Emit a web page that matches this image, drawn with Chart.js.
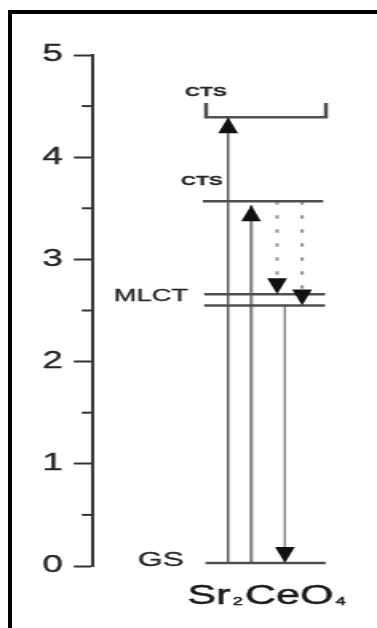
<!DOCTYPE html>
<html>
<head>
<meta charset="utf-8">
<style>
  html, body { margin: 0; padding: 0; background: #fff; }
  body { width: 377px; height: 628px; position: relative; overflow: hidden; }
  #wrap { position: absolute; left: 0; top: 0; width: 236px; height: 628px;
          transform: scaleX(1.5975); transform-origin: 0 0; }
  #frame { position: absolute; left: 8px; top: 10px; right: -10px; bottom: -10px;
           border-top: 4px solid #000; border-left: 4px solid #000; pointer-events: none; }
</style>
<script src="https://cdn.jsdelivr.net/npm/chart.js@4.4.1/dist/chart.umd.min.js"></script>
</head>
<body>
<div id="wrap"><canvas id="c"></canvas></div>
<div id="frame"></div>
<script>
// Energy axis (eV)
const yMin = 0;
const yMax = 5;
const yStep = 0.5;

// Discrete levels of Sr2CeO4
const levelNames  = ['GS', 'MLCT', 'MLCT', 'CTS'];
const levelEnergy = [0.03, 2.55, 2.66, 3.57];
const levelFrom   = [4.2, 4.15, 4.15, 4.1];
const levelTo     = [8.68, 8.66, 8.66, 8.59];

// Upper CTS band, shown as a bracket
const bandEnergy = 4.39;
const bandTop    = 4.53;
const bandFrom   = 4.22;
const bandTo     = 8.69;

// Transitions: horizontal slot, start energy, end energy
const transX    = [5.04, 5.9, 6.87, 7.8, 7.16];
const transFrom = [0.03, 0.03, 3.57, 3.57, 2.55];
const transTo   = [4.39, 3.53, 2.66, 2.55, 0.03];

// Level labels and their anchors
const labelText = ['CTS', 'CTS', 'MLCT', 'GS'];
const labelX    = [4.21, 4.06, 2.16, 2.53];
const labelY    = [4.63, 3.76, 2.64, 0.05];

// Compound name (text, is-subscript)
const compoundParts = [['Sr', false], ['2', true], ['CeO', false], ['4', true]];
const compoundX = 6.52;
const compoundY = -0.28;

// ---- styling ----
const FAMILY = '"Liberation Sans", Arial, Helvetica, sans-serif';
const levelColor = '#4f4f4f';
const transStyles = [
  { color: '#444', width: 1.3, dash: [] },
  { color: '#858585', width: 2.2, dash: [] },
  { color: '#9a9a9a', width: 2.2, dash: [3.5, 10.5] },
  { color: '#9a9a9a', width: 2.2, dash: [3.5, 10.5] },
  { color: '#858585', width: 1, dash: [] }
];
const labelFonts = {
  CTS:  'bold 13px ' + FAMILY,
  MLCT: '17px ' + FAMILY,
  GS:   '20px ' + FAMILY
};

const datasets = [];
levelEnergy.forEach((e, i) => {
  datasets.push({
    label: levelNames[i],
    data: [{ x: levelFrom[i], y: e }, { x: levelTo[i], y: e }],
    borderColor: levelColor, borderWidth: 2.5
  });
});
datasets.push({
  label: 'CTS band',
  data: [
    { x: bandFrom, y: bandTop }, { x: bandFrom, y: bandEnergy },
    { x: bandTo, y: bandEnergy }, { x: bandTo, y: bandTop }
  ],
  borderColor: levelColor, borderWidth: 2.5
});
transX.forEach((x, i) => {
  const s = transStyles[i];
  datasets.push({
    label: 'transition ' + (i + 1),
    data: [{ x: x, y: transFrom[i] }, { x: x, y: transTo[i] }],
    borderColor: s.color, borderWidth: s.width, borderDash: s.dash,
    borderCapStyle: 'butt', arrow: true
  });
});
datasets.forEach(d => { d.showLine = true; d.pointRadius = 0; d.fill = false; });

// Filled triangular heads at the end of each transition
const arrowHeads = {
  id: 'arrowHeads',
  afterDatasetsDraw(chart) {
    const ctx = chart.ctx;
    chart.data.datasets.forEach((ds, i) => {
      if (!ds.arrow) return;
      const pts = chart.getDatasetMeta(i).data;
      const a = pts[pts.length - 2], b = pts[pts.length - 1];
      const dir = b.y < a.y ? 1 : -1;
      ctx.save();
      ctx.fillStyle = '#111';
      ctx.beginPath();
      ctx.moveTo(b.x, b.y);
      ctx.lineTo(b.x - 6.2, b.y + dir * 16);
      ctx.lineTo(b.x + 6.2, b.y + dir * 16);
      ctx.closePath();
      ctx.fill();
      ctx.restore();
    });
  }
};

// Short minor ticks on the energy axis
const minorTicks = {
  id: 'minorTicks',
  afterDraw(chart) {
    const ctx = chart.ctx, ys = chart.scales.y, left = chart.chartArea.left;
    ctx.save();
    ctx.strokeStyle = '#333';
    ctx.lineWidth = 2;
    ys.ticks.forEach(t => {
      if (Number.isInteger(t.value)) return;
      const py = ys.getPixelForValue(t.value);
      ctx.beginPath();
      ctx.moveTo(left - 7, py);
      ctx.lineTo(left, py);
      ctx.stroke();
    });
    ctx.restore();
  }
};

// Level names and compound formula
const textLabels = {
  id: 'textLabels',
  afterDraw(chart) {
    const ctx = chart.ctx, xs = chart.scales.x, ys = chart.scales.y;
    ctx.save();
    ctx.fillStyle = '#262626';
    ctx.strokeStyle = '#262626';
    ctx.lineWidth = 0.3;
    ctx.textBaseline = 'middle';
    ctx.textAlign = 'center';
    labelText.forEach((t, i) => {
      ctx.font = labelFonts[t];
      const px = xs.getPixelForValue(labelX[i]), py = ys.getPixelForValue(labelY[i]);
      ctx.fillText(t, px, py);
      ctx.strokeText(t, px, py);
    });
    // formula with subscripts
    const big = '27px ' + FAMILY, small = '11px ' + FAMILY;
    ctx.fillStyle = '#1a1a1a';
    ctx.strokeStyle = '#1a1a1a';
    ctx.lineWidth = 0.5;
    let total = 0;
    const widths = compoundParts.map(([s, sub]) => {
      ctx.font = sub ? small : big;
      const w = ctx.measureText(s).width + (sub ? 3 : 0);
      total += w;
      return w;
    });
    let px = xs.getPixelForValue(compoundX) - total / 2;
    const py = ys.getPixelForValue(compoundY);
    ctx.textAlign = 'left';
    ctx.textBaseline = 'alphabetic';
    compoundParts.forEach(([s, sub], i) => {
      ctx.font = sub ? small : big;
      const tx = px + (sub ? 1.5 : 0), ty = py + 9.5 + (sub ? 1 : 0);
      ctx.fillText(s, tx, ty);
      ctx.strokeText(s, tx, ty);
      px += widths[i];
    });
    ctx.restore();
  }
};

new Chart(document.getElementById('c'), {
  type: 'scatter',
  data: { datasets },
  options: {
    responsive: true,
    maintainAspectRatio: false,
    animation: false,
    events: [],
    layout: { padding: { top: 55, bottom: 62, left: 0, right: 10 } },
    plugins: { legend: { display: false }, tooltip: { enabled: false } },
    scales: {
      x: { type: 'linear', min: 0, max: 10, display: false },
      y: {
        type: 'linear', min: yMin, max: yMax,
        afterFit(scale) { scale.width = 58.2; },
        border: { display: true, color: '#3a3a3a', width: 2 },
        grid: {
          drawOnChartArea: false, drawTicks: true, tickLength: 12, tickWidth: 2,
          tickColor: c => Number.isInteger(c.tick.value) ? '#333' : 'rgba(0,0,0,0)'
        },
        ticks: {
          stepSize: yStep, padding: 7, color: '#262626',
          textStrokeColor: '#262626', textStrokeWidth: 0.35,
          font: { family: FAMILY, size: 23 },
          callback: v => Number.isInteger(v) ? String(v) : ''
        }
      }
    }
  },
  plugins: [arrowHeads, minorTicks, textLabels]
});
</script>
</body>
</html>
